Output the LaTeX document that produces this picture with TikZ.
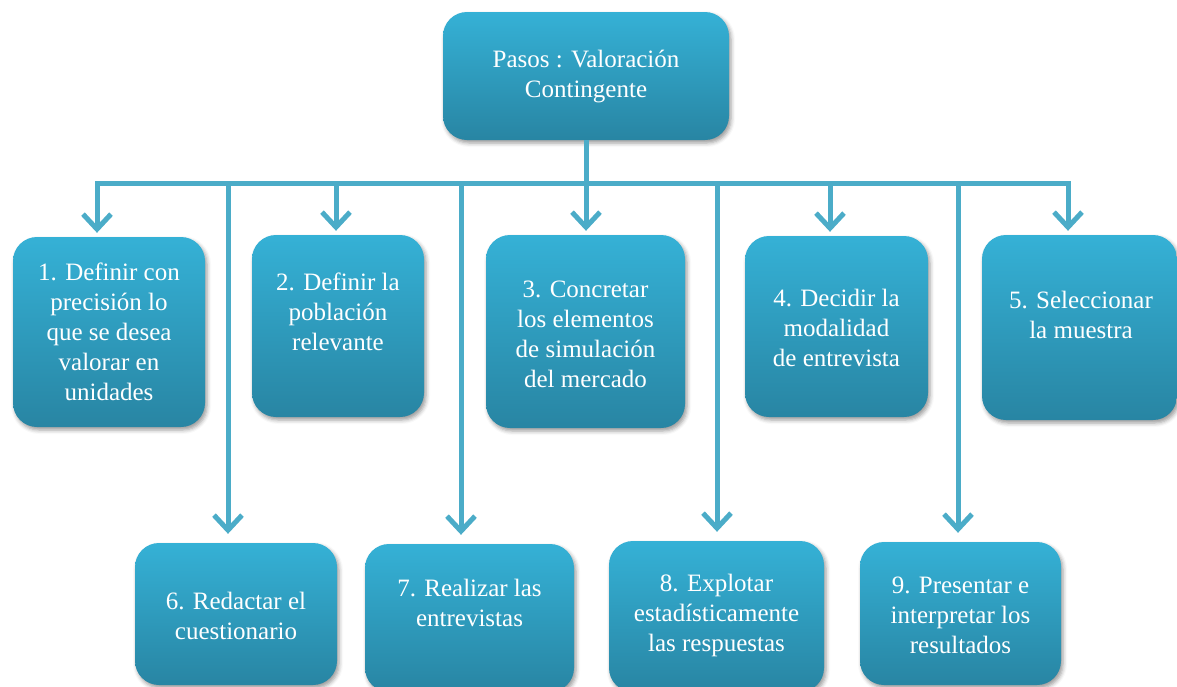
\documentclass[tikz,border=0pt]{standalone}
\usepackage{fontspec}
\setmainfont{Liberation Serif}
\usetikzlibrary{arrows.meta,shadows.blur}
\definecolor{boxtop}{RGB}{53,177,214}
\definecolor{boxbot}{RGB}{40,133,163}
\definecolor{linkc}{RGB}{75,172,200}

\tikzset{
  stepbox/.style={rounded corners=24pt, top color=boxtop, bottom color=boxbot,
    draw=none, inner sep=0pt,
    blur shadow={shadow xshift=2pt, shadow yshift=-3pt,
      shadow blur radius=4pt, shadow opacity=40}},
  steptext/.style={text=white, align=center, inner sep=0pt,
    font=\fontsize{25}{30}\selectfont},
  link/.style={draw=linkc, line width=5pt},
  linkarrow/.style={link, -{Straight Barb[length=15pt,width=28pt]}},
}

\begin{document}
\begin{tikzpicture}[x=1pt,y=-1pt]
  \useasboundingbox (0,0) rectangle (1177,686);

  % title box
  \node[stepbox, minimum width=286pt, minimum height=128pt] (top) at (586,76) {};
  \node[steptext] at (586,77) {Pasos : Valoración\\Contingente};

  % first row of steps
  \node[stepbox, minimum width=192pt, minimum height=190pt] (n1) at (109,332) {};
  \node[steptext] at (109,332) {1. Definir con\\precisión lo\\que se desea\\valorar en\\unidades};

  \node[stepbox, minimum width=172pt, minimum height=182pt] (n2) at (338,326) {};
  \node[steptext] at (338,312) {2. Definir la\\población\\relevante};

  \node[stepbox, minimum width=199pt, minimum height=193pt] (n3) at (585.5,331.5) {};
  \node[steptext] at (585.5,334) {3. Concretar\\los elementos\\de simulación\\del mercado};

  \node[stepbox, minimum width=183pt, minimum height=181pt] (n4) at (836.5,326.5) {};
  \node[steptext] at (836.5,328) {4. Decidir la\\modalidad\\de entrevista};

  \node[stepbox, minimum width=195pt, minimum height=185pt] (n5) at (1079.5,327.5) {};
  \node[steptext] at (1081,315) {5. Seleccionar\\la muestra};

  % second row of steps
  \node[stepbox, minimum width=202pt, minimum height=142pt] (n6) at (236,614) {};
  \node[steptext] at (236,616) {6. Redactar el\\cuestionario};

  \node[stepbox, minimum width=209pt, minimum height=148pt] (n7) at (469.5,618) {};
  \node[steptext] at (469.5,603) {7. Realizar las\\entrevistas};

  \node[stepbox, minimum width=215pt, minimum height=151pt] (n8) at (716.5,616.5) {};
  \node[steptext] at (716.5,615) {8. Explotar\\estadísticamente\\las respuestas};

  \node[stepbox, minimum width=201pt, minimum height=143pt] (n9) at (960.5,613.5) {};
  \node[steptext] at (960.5,615) {9. Presentar e\\interpretar los\\resultados};

  % distribution bus
  \coordinate (bL) at (97,183);
  \coordinate (bR) at (1068,183);
  \coordinate (b2) at (336,183);
  \coordinate (b4) at (830,183);
  \coordinate (b6) at (228,183);
  \coordinate (b7) at (461,183);
  \coordinate (b8) at (717,183);
  \coordinate (b9) at (958,183);

  \draw[link, line cap=rect] (bL) -- (bR);
  \draw[linkarrow, shorten >=4pt] (top.south) -- (top.south |- n3.north);

  \draw[linkarrow, shorten >=4pt] (bL) -- (bL |- n1.north);
  \draw[linkarrow, shorten >=4pt] (b2) -- (b2 |- n2.north);
  \draw[linkarrow, shorten >=4pt] (b4) -- (b4 |- n4.north);
  \draw[linkarrow, shorten >=4pt] (bR) -- (bR |- n5.north);

  \draw[linkarrow, shorten >=9pt] (b6) -- (b6 |- n6.north);
  \draw[linkarrow, shorten >=9pt] (b7) -- (b7 |- n7.north);
  \draw[linkarrow, shorten >=9pt] (b8) -- (b8 |- n8.north);
  \draw[linkarrow, shorten >=9pt] (b9) -- (b9 |- n9.north);
\end{tikzpicture}
\end{document}
